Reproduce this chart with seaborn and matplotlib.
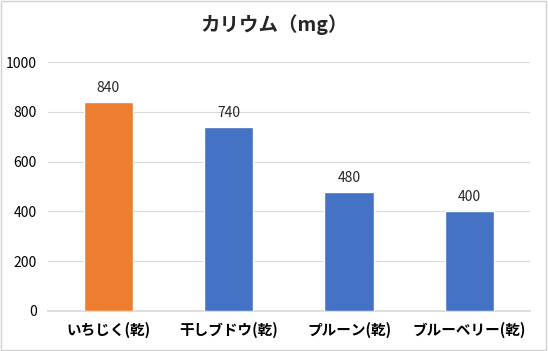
import matplotlib
matplotlib.use('Agg')
import matplotlib.pyplot as plt
import seaborn as sns
import pandas as pd
from matplotlib.patches import Rectangle

sns.set_theme(style='white')
plt.rcParams['font.family'] = ['Noto Sans CJK JP', 'DejaVu Sans']

categories = ['いちじく(乾)', '干しブドウ(乾)', 'プルーン(乾)', 'ブルーベリー(乾)']
values = [840, 740, 480, 400]
colors = ['#ED7D31', '#4472C4', '#4472C4', '#4472C4']
title = 'カリウム（mg）'

df = pd.DataFrame({'item': categories, 'potassium': values})

fig = plt.figure(figsize=(5.48, 3.51), dpi=100)
ax = fig.add_axes([0.0876, 0.114, 0.879, 0.709])

sns.barplot(data=df, x='item', y='potassium', hue='item', palette=colors,
            legend=False, width=0.41, ax=ax, zorder=3, saturation=1)

ax.set_ylim(0, 1000)
ax.set_yticks(range(0, 1001, 200))
ax.yaxis.grid(True, color='#d9d9d9', linewidth=0.8, zorder=0)
ax.set_axisbelow(True)
for s in ['top', 'right', 'left']:
    ax.spines[s].set_visible(False)
ax.spines['bottom'].set_color('#d9d9d9')
ax.set_xlabel('')
ax.set_ylabel('')
ax.tick_params(axis='both', length=0, labelsize=10, colors='#000000', pad=8)
for lab in ax.get_xticklabels():
    lab.set_fontweight('bold')
    lab.set_fontsize(10.5)

for c in ax.containers:
    ax.bar_label(c, fmt='%d', padding=5, fontsize=10)

fig.suptitle(title, y=0.96, fontsize=14, fontweight='bold')

fig.patches.append(Rectangle((0.002, 0.003), 0.994, 0.993, transform=fig.transFigure,
                             fill=False, edgecolor='#d0d0d0', linewidth=1))

fig.savefig('out.png', dpi=100)
